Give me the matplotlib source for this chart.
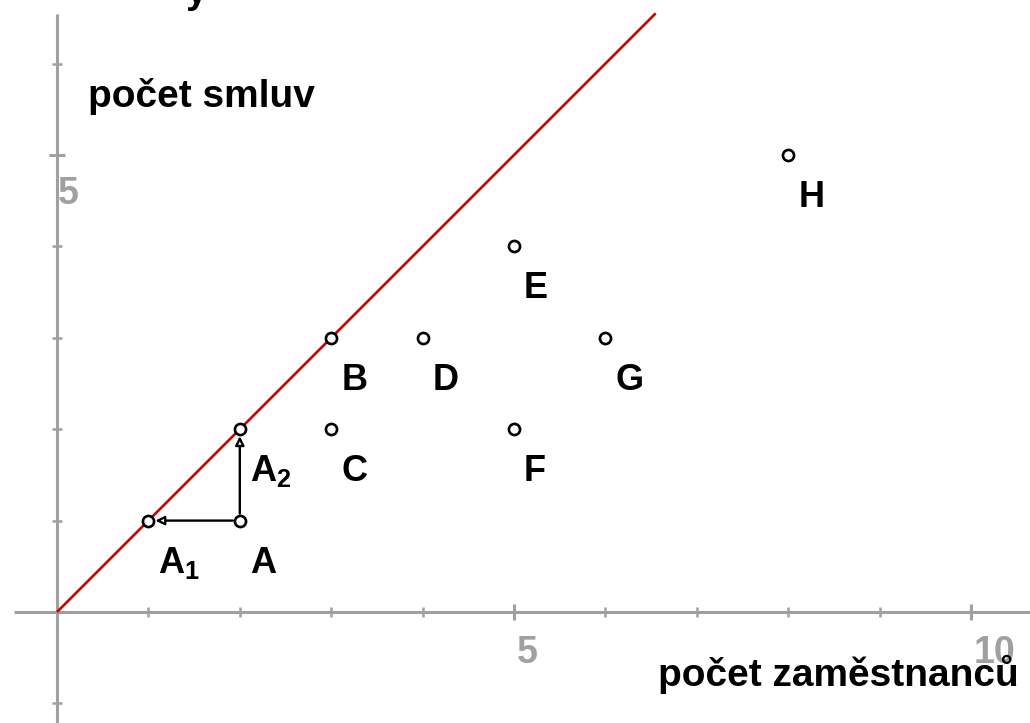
import matplotlib
matplotlib.use("Agg")
import matplotlib.pyplot as plt

plt.rcParams['font.family'] = ['Liberation Sans', 'DejaVu Sans']
plt.rcParams['font.weight'] = 'bold'
plt.rcParams['mathtext.fontset'] = 'custom'
plt.rcParams['mathtext.rm'] = 'Liberation Sans:bold'
plt.rcParams['mathtext.it'] = 'Liberation Sans:bold'
plt.rcParams['mathtext.bf'] = 'Liberation Sans:bold'

# ---- data ----
point_names = ['A', 'A$_{1}$', 'A$_{2}$', 'B', 'C', 'D', 'E', 'F', 'G', 'H']
point_x = [2, 1, 2, 3, 3, 4, 5, 5, 6, 8]
point_y = [1, 1, 2, 3, 2, 3, 4, 2, 3, 5]
line_x = [0, 6.55]
line_y = [0, 6.55]
arrow_start = (2, 1)
arrow_ends = [(1, 1), (2, 2)]
x_major = [5, 10]
x_minor = [1, 2, 3, 4, 6, 7, 8, 9]
y_major = [5]
y_minor = [-1, 1, 2, 3, 4, 6]
x_ticklabels = ['5', '10']
y_ticklabels = ['5']
xlabel = 'počet zaměstnanců'
ylabel = 'počet smluv'

GRAY = '#a0a0a0'
scale = 91.4
fig = plt.figure(figsize=(10.3, 7.23), dpi=100)
ax = fig.add_axes([0, 0, 1, 1])
ax.set_xlim(-57 / scale, (1030 - 57) / scale)
ax.set_ylim(-(723 - 612) / scale, 612 / scale)

for s in ['top', 'right']:
    ax.spines[s].set_visible(False)
ax.spines['left'].set_position(('data', 0))
ax.spines['bottom'].set_position(('data', 0))
ax.spines['bottom'].set_bounds(-43 / scale, 11)
ax.spines['left'].set_bounds(-2, (612 - 14) / scale)
for s in ['left', 'bottom']:
    ax.spines[s].set_color(GRAY)
    ax.spines[s].set_linewidth(2.2)
    ax.spines[s].set_capstyle('butt')

ax.set_xticks(x_major)
ax.set_xticks(x_minor, minor=True)
ax.set_yticks(y_major)
ax.set_yticks(y_minor, minor=True)
ax.tick_params(which='major', direction='inout', length=11.5, width=2.2, color=GRAY,
               labelbottom=False, labelleft=False)
ax.tick_params(which='minor', direction='inout', length=7, width=1.8, color=GRAY)

for v, t in zip(x_major, x_ticklabels):
    ax.annotate(t, xy=(v, 0), xytext=(3, -23), textcoords='offset pixels',
                ha='left', va='top', fontsize=27, color=GRAY, fontweight='bold')
for v, t in zip(y_major, y_ticklabels):
    ax.annotate(t, xy=(0, v), xytext=(1, -21), textcoords='offset pixels',
                ha='left', va='top', fontsize=27, color=GRAY, fontweight='bold')

ax.plot(line_x, line_y, color='#cc0000', lw=1.9, solid_capstyle='butt', zorder=3)

for end in arrow_ends:
    ax.annotate('', xy=end, xytext=arrow_start,
                arrowprops=dict(arrowstyle='-|>', color='black', fc='white', lw=1.7,
                                shrinkA=5, shrinkB=5, mutation_scale=13),
                zorder=4)

ax.plot(point_x, point_y, 'o', ms=8, mfc='white', mec='black', mew=1.9, zorder=6,
        linestyle='none')

for name, x, y in zip(point_names, point_x, point_y):
    ax.annotate(name, xy=(x, y), xytext=(10, -52), textcoords='offset pixels',
                ha='left', va='baseline', fontsize=26, fontweight='bold', color='black')

ax.text(88 / 1030, 1 - 107 / 723, ylabel, transform=fig.transFigure, ha='left',
        va='baseline', fontsize=28, fontweight='bold')
ax.text(1019 / 1030, 1 - 686 / 723, xlabel, transform=fig.transFigure, ha='right',
        va='baseline', fontsize=28, fontweight='bold')
ax.text(186 / 1030, 1 - 3 / 723, 'y', transform=fig.transFigure, ha='left',
        va='baseline', fontsize=28, fontweight='bold')

fig.savefig('out.png', dpi=100)
